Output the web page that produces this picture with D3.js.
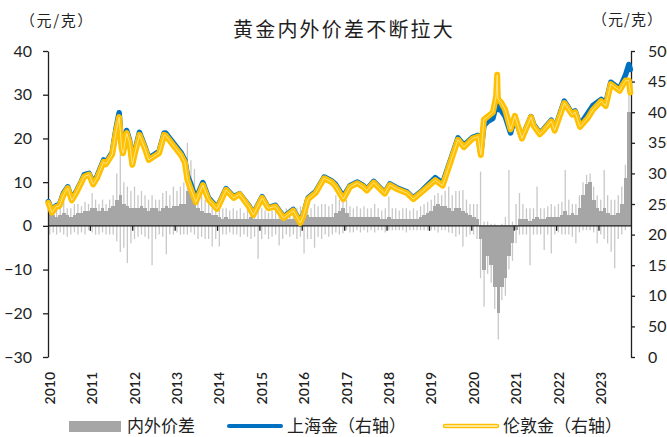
<!DOCTYPE html>
<html>
<head>
<meta charset="utf-8">
<script src="https://cdn.jsdelivr.net/npm/d3@7/dist/d3.min.js"></script>
<style>
  html, body { margin: 0; padding: 0; background: #fff; overflow: hidden; }
  svg { display: block; overflow: hidden; }
</style>
</head>
<body>
<svg id="chart" width="667" height="437"></svg>
<script>
// ---- Gold prices (元/克, right axis): dates of readings and the two series ----
const goldDates = [
  "2010-01-04","2010-02-05","2010-03-10","2010-04-10","2010-05-15","2010-06-20","2010-07-25","2010-09-01","2010-10-15","2010-11-10","2010-12-20",
  "2011-01-25","2011-03-01","2011-04-25","2011-05-15","2011-07-08","2011-08-10","2011-09-06","2011-09-28","2011-10-10","2011-11-10","2011-12-05","2011-12-29",
  "2012-01-20","2012-02-28","2012-04-20","2012-05-18","2012-07-05","2012-08-15","2012-09-28","2012-10-10","2012-12-28",
  "2013-02-20","2013-03-25","2013-04-16","2013-05-15","2013-06-28","2013-08-27","2013-10-15","2013-12-28",
  "2014-03-15","2014-05-20","2014-07-10","2014-09-30","2014-11-05",
  "2015-01-20","2015-03-15","2015-05-15","2015-07-24","2015-10-15","2015-12-15",
  "2016-01-10","2016-02-20","2016-04-25","2016-07-08","2016-09-08","2016-10-10","2016-12-20",
  "2017-02-15","2017-04-20","2017-06-10","2017-07-10","2017-09-08","2017-11-15","2017-12-12",
  "2018-01-25","2018-03-20","2018-06-20","2018-08-15","2018-10-30","2018-12-28",
  "2019-02-20","2019-04-25","2019-06-25","2019-09-04","2019-10-25",
  "2020-01-08","2020-02-24","2020-03-19","2020-04-14","2020-05-18","2020-07-01","2020-07-28","2020-08-07","2020-08-12","2020-09-10","2020-10-15","2020-11-30",
  "2021-01-06","2021-03-08","2021-05-25","2021-06-17","2021-08-09","2021-09-10","2021-11-16","2021-12-15",
  "2022-03-08","2022-05-15","2022-06-10","2022-07-21","2022-09-25","2022-11-10",
  "2023-01-20","2023-02-28","2023-04-13","2023-06-29","2023-07-20","2023-08-20","2023-09-15","2023-09-28"
];
const londonGold = [
  252,236,245,247,265,276,256,268,285,295,298,
  282,293,319,315,331,368,392,340,333,366,350,314,
  333,363,338,322,328,333,363,362,343,
  330,318,290,275,253,281,257,242,
  273,260,266,245,232,
  260,243,246,227,239,219,
  230,258,268,292,286,280,258,
  278,284,278,272,285,272,267,
  281,275,268,258,270,280,
  289,280,315,355,343,
  357,360,330,388,393,400,425,461,422,416,404,372,
  394,357,392,378,364,370,385,370,
  415,396,400,376,390,404,
  418,410,446,435,443,452,452,432
];
const shanghaiGold = [
  254,238,247,249,268,278,258,270,287,298,300,
  285,296,322,318,334,373,399,345,337,370,354,317,
  337,367,341,325,331,336,366,366,347,
  334,322,297,283,258,285,260,244,
  275,262,267,247,234,
  262,244,248,229,241,221,
  232,260,270,294,288,283,262,
  280,286,280,274,287,274,269,
  283,277,270,260,272,283,
  293,284,318,358,346,
  359,362,333,378,385,390,410,440,405,403,393,366,
  391,358,393,380,366,372,387,372,
  418,398,402,379,398,411,
  421,414,449,438,448,462,478,470
];

// ---- Domestic/overseas spread (元/克, left axis), monthly from Jan 2010 ----
const spreadStart = "2010-01";
const spreadAvg = [
  3,2.5,2,2.5,3,2.5,2,2.5,3,3,3.5,3.5,            // 2010
  4,4,3.5,4,3.5,4,4.5,6,7,5,4.5,4,                // 2011
  4,4,4.5,4,3.5,4,4,3.5,4,4.5,4,4.5,              // 2012
  4.5,5,5,8,8,6,4,3.5,3,3,2.5,2.5,                // 2013
  2,1.5,2,1.5,1.5,1.5,1.5,1.5,1.5,2,1.5,1.5,      // 2014
  1.5,1.5,1.5,1.5,1.5,1.5,1.5,1.5,1.5,1.5,2,2,    // 2015
  2.5,2.5,2,2,2,2,2,2,2,3,3.5,4,                  // 2016
  3,2,2,2,2,2,2,2,2,2,1.5,1.5,                    // 2017
  2,1.5,1.5,1.5,1.5,1.5,1.5,1.5,1.5,2,2.5,3,      // 2018
  3.5,4.5,5,4.5,4.5,4,3.5,4,4,3.5,3,2.5,          // 2019
  2,1.5,-3,-10,-7,-9,-14,-20,-14,-12,-7,-4,       // 2020
  -1,1.5,1.5,1.5,1,1.5,2,1.5,1.5,2,2,2,           // 2021
  2,2.5,3.5,2.5,3,2.5,4,7,9.5,10,6,4,             // 2022
  3.5,4,3,2.5,2.5,3,5,11,26                       // 2023
];
const spreadHigh = [
  5,4,4,4.5,5.5,4,4,5,5,4.5,5.5,5,
  7.5,6,5,6,5,6,7,12,19,10,9,8,
  9,7,8,7,6,7,6,6,7.5,8,7,9,
  8,9,10,19,15,13,8,7,6,6,5,5,
  6,4,4,3.5,4,3.5,4,3,4,4.5,4,5,
  4,3.5,3,3.5,3.5,3,3.5,4,3.5,3.5,4,4.5,
  5,4.5,4,5,4.5,5,5,4.5,5,7,6,7.5,
  6,4.5,4,4.5,4,4.5,4,4,5,4,3.5,4,
  6.7,4,4,3.5,4,4,3.5,4,3.5,4.5,5,5.5,
  6,7,7.5,7,8,9,7,8,8,8.2,6,5,
  5,5,12.4,1,1,0.5,0.5,0,0.5,2,12.8,1,
  5,7.5,5,4,4,4,9,4,4,4.5,5,4.5,
  5,5.5,12.8,6,5,5,7,10,11.7,12,9,7,
  6,12.8,7,6,6,7,9,14,30
];
const spreadLow = [
  -2,-1.5,-2,-1.5,-2,-2.5,-2,-1.5,-2,-1.5,-2,-1,
  -1.5,-2,-2,-1.5,-2,-2,-2,-3.5,-6,-5,-8.5,-4,
  -3,-2.5,-2,-2.5,-3,-9,-3,-2,-2.5,-6.5,-2,-2,
  -1.5,-2,-2,-2,-1.5,-2,-3,-2.5,-3,-3,-4.7,-3,
  -4.7,-2,-2,-1.5,-2,-2,-2.5,-2,-2.5,-3,-2.5,-7.5,
  -3,-2,-3,-2.5,-2,-4.5,-3,-2,-2.5,-2,-3,-2.5,
  -6.3,-3,-3,-5,-2.5,-3,-2,-2.5,-2,-1.5,-2,-1.7,
  -1,-1.5,-1.5,-1,-1.5,-1,-1.5,-1,-1.5,-1,-1,-1.5,
  -1,-1,-1,-1,-1,-1.5,-1,-1,-1,-1,-1,-1,
  -1,-1,-1.5,-1,-1,-1.5,-1.7,-2.5,-2,-4.7,-2.5,-2,
  -2,-3,-12,-18.5,-11,-13,-19,-26,-17,-16,-10,-8,
  -4,-2,-2,-2,-9,-2,-2,-2,-5.5,-2,-6.3,-2,
  -1.5,-2,-2,-2,-2.5,-4,-1.5,-1,-1,-1,-1.5,-4,
  -2,-3,-4,-5.9,-9.7,-3,-2,-1,0
];

// ---- Axis ticks and labels ----
const leftTicks = [-30, -20, -10, 0, 10, 20, 30, 40];
const rightTicks = [0, 50, 100, 150, 200, 250, 300, 350, 400, 450, 500];
const yearTicks = [2010, 2011, 2012, 2013, 2014, 2015, 2016, 2017, 2018, 2019, 2020, 2021, 2022, 2023];
const titleText = "黄金内外价差不断拉大";
const unitText = "（元/克）";
const legendNames = ["内外价差", "上海金（右轴）", "伦敦金（右轴）"];

// ---- Colours ----
const GRAY = "#a6a6a6", GRAY_LIGHT = "#c8c8c8", BLUE = "#0070c0", GOLD = "#ffc000", GOLD_INNER = "#ffe38a";
const INK = "#1f1f1f";
const NUM_FONT = "Lato, 'Open Sans', sans-serif";
const CJK_FONT = "'Noto Sans CJK SC', 'Noto Sans', sans-serif";

const svg = d3.select("#chart");

const x = d3.scaleTime()
  .domain([new Date(2010, 0, 1), new Date(2023, 9, 4)])
  .range([48, 631]);
const yL = d3.scaleLinear().domain([-30, 40]).range([357, 51]);
const yR = d3.scaleLinear().domain([0, 500]).range([357, 51]);

const parseDay = d3.timeParse("%Y-%m-%d");
const startMonth = d3.timeParse("%Y-%m")(spreadStart);
const monthStarts = spreadAvg.map((_, i) => d3.timeMonth.offset(startMonth, i));

// ---- Spread bars: light range line (monthly low..high) under a darker typical-level bar ----
const spread = monthStarts.map((m, i) => ({
  x0: x(m), x1: x(d3.timeMonth.offset(m, 1)),
  avg: spreadAvg[i], high: spreadHigh[i], low: spreadLow[i]
}));

const gSpread = svg.append("g");
gSpread.selectAll("line.spike")
  .data(spread)
  .join("line")
  .attr("class", "spike")
  .attr("x1", d => (d.x0 + d.x1) / 2)
  .attr("x2", d => (d.x0 + d.x1) / 2)
  .attr("y1", d => yL(d.low))
  .attr("y2", d => yL(d.high))
  .attr("stroke", GRAY_LIGHT)
  .attr("stroke-width", 1.3);
gSpread.selectAll("rect")
  .data(spread)
  .join("rect")
  .attr("x", d => d.x0)
  .attr("width", d => d.x1 - d.x0 + 0.2)
  .attr("y", d => Math.min(yL(0), yL(d.avg)))
  .attr("height", d => Math.abs(yL(d.avg) - yL(0)))
  .attr("fill", GRAY)
  .attr("shape-rendering", "crispEdges");

// ---- Left axis ----
const axisL = svg.append("g")
  .attr("transform", "translate(48,0)")
  .call(d3.axisLeft(yL).tickValues(leftTicks).tickSize(5).tickSizeOuter(0).tickPadding(11));
// ---- Right axis (labels run past the right edge of the canvas) ----
const axisR = svg.append("g")
  .attr("transform", "translate(631,0)")
  .call(d3.axisRight(yR).tickValues(rightTicks).tickSize(4).tickSizeOuter(0).tickPadding(13));
[axisL, axisR].forEach(a => {
  a.selectAll("path.domain").attr("stroke", INK).attr("stroke-width", 1.3);
  a.selectAll(".tick line").attr("stroke", INK).attr("stroke-width", 1.3);
  a.selectAll(".tick text").attr("fill", INK).style("font-family", NUM_FONT).style("font-size", "16px");
});

// ---- Zero line with year ticks ----
const gX = svg.append("g").attr("transform", `translate(0,${yL(0)})`);
gX.append("line").attr("x1", 48).attr("x2", 631).attr("stroke", INK).attr("stroke-width", 1.3);
gX.selectAll("line.yt")
  .data(yearTicks.slice(1))
  .join("line")
  .attr("class", "yt")
  .attr("x1", d => x(new Date(d, 0, 1)))
  .attr("x2", d => x(new Date(d, 0, 1)))
  .attr("y1", 0).attr("y2", 5)
  .attr("stroke", INK).attr("stroke-width", 1.3);

svg.append("g").selectAll("text")
  .data(yearTicks)
  .join("text")
  .attr("transform", d => `translate(${x(new Date(d, 0, 1)) + 2},372) rotate(-90)`)
  .attr("text-anchor", "end")
  .attr("dy", "0.35em")
  .attr("fill", INK)
  .style("font-family", NUM_FONT)
  .style("font-size", "14px")
  .style("font-weight", "600")
  .text(d => d);

// ---- Price lines ----
const goldPts = goldDates.map((d, i) => ({ t: parseDay(d), lon: londonGold[i], sh: shanghaiGold[i] }));
const lineSh = d3.line().x(d => x(d.t)).y(d => yR(d.sh));
const lineLon = d3.line().x(d => x(d.t)).y(d => yR(d.lon));

svg.append("path").datum(goldPts).attr("d", lineSh)
  .attr("fill", "none").attr("stroke", BLUE).attr("stroke-width", 5.5)
  .attr("stroke-linejoin", "round").attr("stroke-linecap", "round");
svg.append("path").datum(goldPts).attr("d", lineLon)
  .attr("fill", "none").attr("stroke", GOLD).attr("stroke-width", 6)
  .attr("stroke-linejoin", "round").attr("stroke-linecap", "round");
svg.append("path").datum(goldPts).attr("d", lineLon)
  .attr("fill", "none").attr("stroke", GOLD_INNER).attr("stroke-width", 1)
  .attr("stroke-linejoin", "round");

// ---- Title and units ----
svg.append("text")
  .attr("x", 344).attr("y", 37)
  .attr("text-anchor", "middle")
  .attr("fill", INK)
  .style("font-family", CJK_FONT).style("font-size", "20px").style("letter-spacing", "2.2px")
  .text(titleText);
svg.append("text")
  .attr("x", 20).attr("y", 26)
  .attr("fill", INK)
  .style("font-family", CJK_FONT).style("font-size", "15px").style("letter-spacing", "1.6px")
  .text(unitText);
svg.append("text")
  .attr("x", 663).attr("y", 25)
  .attr("text-anchor", "end")
  .attr("fill", INK)
  .style("font-family", CJK_FONT).style("font-size", "15px").style("letter-spacing", "1px")
  .text(unitText);

// ---- Legend ----
const gLeg = svg.append("g");
gLeg.append("rect").attr("x", 69).attr("y", 421).attr("width", 52).attr("height", 11).attr("fill", GRAY);
gLeg.append("line").attr("x1", 229).attr("x2", 281).attr("y1", 426).attr("y2", 426)
  .attr("stroke", BLUE).attr("stroke-width", 4).attr("stroke-linecap", "round");
gLeg.append("line").attr("x1", 445).attr("x2", 497).attr("y1", 426).attr("y2", 426)
  .attr("stroke", GOLD).attr("stroke-width", 4.5).attr("stroke-linecap", "round");
gLeg.append("line").attr("x1", 445).attr("x2", 497).attr("y1", 426).attr("y2", 426)
  .attr("stroke", "#fff2c6").attr("stroke-width", 1.5).attr("stroke-linecap", "round");
gLeg.selectAll("text")
  .data(legendNames.map((n, i) => ({ n, x: [127, 287, 503][i] })))
  .join("text")
  .attr("x", d => d.x).attr("y", 432)
  .attr("fill", INK)
  .style("font-family", CJK_FONT).style("font-size", "17px")
  .text(d => d.n);
</script>
</body>
</html>
